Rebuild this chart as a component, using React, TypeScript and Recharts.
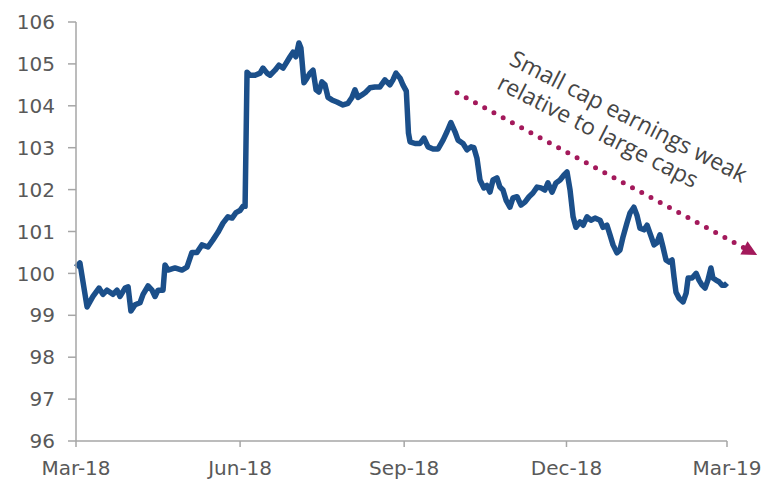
import React from 'react';
import { LineChart, Line, XAxis, YAxis, ReferenceLine, ReferenceDot } from 'recharts';

// x positions are days since 1 Mar 2018
const tickDays = [0, 92, 184, 275, 365];
const tickLabels = ['Mar-18', 'Jun-18', 'Sep-18', 'Dec-18', 'Mar-19'];
const yTicks = [96, 97, 98, 99, 100, 101, 102, 103, 104, 105, 106];

const days = [
  0, 2.2, 6.2, 9.5, 12.9, 15.1, 17.4, 20.7, 23.0, 24.7, 27.5, 29.2, 30.8, 33.1, 35.9, 37.6, 40.4, 42.6, 44.3, 46.0,
  48.8, 49.9, 51.6, 55.5, 59.4, 62.2, 65.0, 67.8, 70.6, 74.0, 76.8, 79.6, 82.4, 85.2, 87.5, 89.7, 91.9, 93.6, 94.8,
  95.9, 97.6, 100.4, 103.2, 104.8, 107.1, 108.8, 111.6, 113.8, 116.1, 118.3, 120.0, 121.7, 123.3, 125.0, 126.1,
  127.8, 129.5, 131.2, 132.9, 134.6, 136.2, 137.9, 139.6, 141.3, 143.5, 146.3, 149.7, 152.5, 154.7, 156.4, 158.1,
  160.3, 162.6, 164.8, 167.6, 170.4, 173.2, 176.0, 177.7, 179.4, 181.7, 183.3, 185.2, 186.4, 187.3, 190.1, 192.9, 195.1,
  197.4, 200.2, 203.0, 205.8, 208.0, 210.2, 212.5, 214.2, 217.0, 219.2, 221.5, 223.1, 224.8, 226.5, 228.7, 230.4,
  232.1, 233.8, 236.0, 237.7, 239.4, 241.1, 243.3, 245.0, 247.3, 249.5, 251.7, 254.0, 256.2, 258.5, 260.7, 262.9,
  264.6, 266.9, 269.1, 271.4, 273.6, 275.3, 277.0, 278.7, 280.3, 282.6, 284.3, 286.5, 288.7, 291.0, 293.8, 295.5,
  297.7, 299.4, 301.1, 303.3, 305.0, 306.7, 308.9, 310.6, 312.8, 314.5, 316.2, 318.5, 320.2, 321.8, 324.1, 325.7,
  327.4, 329.1, 330.8, 332.5, 334.2, 335.3, 336.4, 338.1, 340.4, 342.1, 343.2, 345.4, 347.7, 349.3, 351.0, 352.7,
  354.3, 356.0, 357.1, 358.8, 360.5, 362.2, 363.9, 365.0,
];

const values = [
  100.15, 100.25, 99.2, 99.45, 99.65, 99.5, 99.6, 99.5, 99.6, 99.45, 99.65, 99.68, 99.1, 99.25, 99.3, 99.5, 99.7, 99.6, 99.45, 99.6,
  99.6, 100.2, 100.08, 100.13, 100.08, 100.15, 100.5, 100.5, 100.68, 100.63, 100.8, 100.98, 101.2, 101.35, 101.32, 101.45, 101.5, 101.6, 101.6,
  104.8, 104.73, 104.73, 104.78, 104.9, 104.78, 104.73, 104.85, 104.97, 104.9, 105.05, 105.17, 105.28, 105.17, 105.5, 105.38,
  104.55, 104.66, 104.78, 104.85, 104.38, 104.33, 104.57, 104.5, 104.2, 104.14, 104.09, 104.02, 104.06, 104.2, 104.38, 104.2,
  104.26, 104.33, 104.43, 104.45, 104.45, 104.62, 104.5, 104.62, 104.78, 104.66, 104.5, 104.35, 103.35, 103.14, 103.1, 103.1, 103.23,
  103.02, 102.97, 102.97, 103.18, 103.38, 103.6, 103.38, 103.18, 103.1, 102.95, 103.02, 103.0, 102.75, 102.23, 102.04, 102.1,
  101.94, 102.23, 102.28, 102.06, 101.99, 101.75, 101.58, 101.8, 101.83, 101.63, 101.7, 101.83, 101.92, 102.06, 102.04, 101.99,
  102.16, 101.94, 102.16, 102.23, 102.35, 102.42, 101.99, 101.35, 101.1, 101.23, 101.15, 101.35, 101.27, 101.32, 101.27, 101.1,
  101.15, 100.92, 100.68, 100.49, 100.56, 100.87, 101.2, 101.44, 101.58, 101.39, 101.08, 101.04, 101.15, 100.96, 100.68, 100.73,
  100.92, 100.63, 100.32, 100.27, 100.32, 99.91, 99.55, 99.41, 99.32, 99.53, 99.89, 99.89, 100.0, 99.84, 99.72, 99.65,
  99.84, 100.13, 99.89, 99.84, 99.8, 99.72, 99.72, 99.77,
];

const annotationLines = ['Small cap earnings weak', 'relative to large caps'];
const arrowStart = { x: 213.6, y: 104.31 };
const arrowEnd = { x: 374.5, y: 100.61 };
const textAnchorPoint = { x: 242.2, y: 105.0 };

const data = days.map((d, i) => ({ day: d, value: values[i] }));

const ARROW_COLOR = '#a3195b';
const LINE_COLOR = '#1b4f8a';
const AXIS_COLOR = '#a6a6a6';
const TICK_COLOR = '#595959';

const ArrowHead = (props: any) => {
  const { cx, cy } = props;
  const a = (28.4 * Math.PI) / 180;
  const len = 15;
  const half = 7.5;
  const tip = [cx + len * Math.cos(a), cy + len * Math.sin(a)];
  const b1 = [cx - half * Math.sin(a), cy + half * Math.cos(a)];
  const b2 = [cx + half * Math.sin(a), cy - half * Math.cos(a)];
  return <polygon points={`${tip[0]},${tip[1]} ${b1[0]},${b1[1]} ${b2[0]},${b2[1]}`} fill={ARROW_COLOR} />;
};

const AnnotationText = (props: any) => {
  const { cx, cy } = props;
  return (
    <g transform={`translate(${cx},${cy}) rotate(27)`}>
      {annotationLines.map((t, i) => (
        <text key={i} x={0} y={i * 27} fill="#454545" fontSize={23} fontFamily="'Open Sans', sans-serif">
          {t}
        </text>
      ))}
    </g>
  );
};

export default function App() {
  return (
    <div style={{ position: 'absolute', left: 0, top: 0, width: 766, height: 485, background: '#fff' }}>
      <LineChart width={766} height={485} data={data} margin={{ top: 22, right: 39, bottom: 4, left: 10 }}>
        <XAxis
          dataKey="day"
          type="number"
          domain={[0, 365]}
          ticks={tickDays}
          interval={0}
          tickFormatter={(v: number) => tickLabels[tickDays.indexOf(v)]}
          height={40}
          tickSize={6}
          tickMargin={14}
          stroke={AXIS_COLOR}
          strokeWidth={1.5}
          tick={{ fill: TICK_COLOR, fontSize: 20, fontFamily: "'DejaVu Sans', sans-serif" }}
        />
        <YAxis
          domain={[96, 106]}
          ticks={yTicks}
          interval={0}
          width={66}
          tickSize={8}
          tickMargin={13}
          stroke={AXIS_COLOR}
          strokeWidth={1.5}
          tick={{ fill: TICK_COLOR, fontSize: 20, fontFamily: "'DejaVu Sans', sans-serif" }}
        />
        <ReferenceLine
          segment={[arrowStart, arrowEnd]}
          stroke={ARROW_COLOR}
          strokeWidth={5}
          strokeDasharray="0 10.5"
          strokeLinecap="round"
          ifOverflow="visible"
        />
        <ReferenceDot x={arrowEnd.x} y={arrowEnd.y} ifOverflow="visible" shape={ArrowHead} />
        <ReferenceDot x={textAnchorPoint.x} y={textAnchorPoint.y} ifOverflow="visible" shape={AnnotationText} />
        <Line
          type="linear"
          dataKey="value"
          stroke={LINE_COLOR}
          strokeWidth={5.5}
          strokeLinejoin="round"
          dot={false}
          isAnimationActive={false}
        />
      </LineChart>
    </div>
  );
}
